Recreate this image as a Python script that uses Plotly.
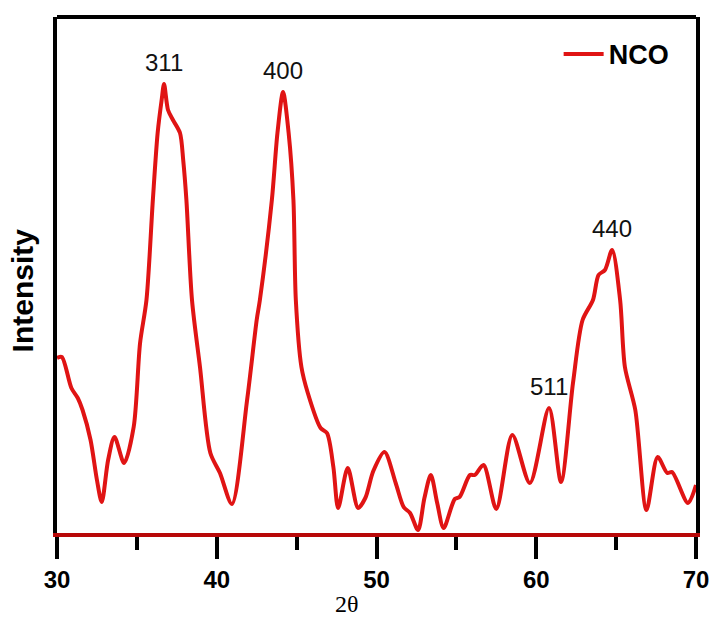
import plotly.graph_objects as go

two_theta = [30.0, 30.3, 30.9, 31.3, 31.6, 32.1, 32.5, 32.8, 33.2, 33.6, 34.2, 34.8, 35.2, 35.6,
             36.0, 36.3, 36.55, 36.7, 36.95, 37.26, 37.7, 37.9, 38.1, 38.45, 38.95, 39.6, 40.2,
             40.95, 41.9, 42.5, 42.7, 43.45, 43.8, 44.15, 44.5, 44.8, 44.95, 45.3, 45.7, 46.5,
             46.9, 47.3, 47.6, 48.2, 48.85, 49.3, 49.8, 50.5, 51.2, 51.7, 52.1, 52.6, 53.0,
             53.4, 53.8, 54.2, 54.9, 55.2, 55.85, 56.15, 56.7, 57.5, 58.5, 59.6, 60.8, 61.55,
             62.3, 62.9, 63.55, 63.9, 64.3, 64.75, 65.25, 65.55, 66.2, 66.9, 67.6, 68.2, 68.5,
             69.5, 70.0]
intensity = [175, 176, 145, 135, 123, 93, 53, 31, 73, 96, 70, 106, 190, 233,
             333, 400, 433, 449, 423, 413, 400, 373, 333, 233, 166, 80, 60,
             29, 133, 213, 233, 333, 400, 441, 400, 333, 233, 166, 140, 105,
             100, 66, 25, 65, 25, 35, 62, 81, 50, 26, 20, 3, 35,
             58, 30, 5, 34, 36, 58, 58, 68, 24, 98, 50, 125, 51,
             150, 213, 233, 258, 263, 283, 233, 166, 123, 23, 76, 60, 61,
             30, 48]

peak_labels = ["311", "400", "511", "440"]
peak_x = [36.7, 44.15, 60.8, 64.75]
peak_y = [449, 441, 125, 283]

x_ticks = [30, 40, 50, 60, 70]

RED = "#e01414"

fig = go.Figure()
fig.add_trace(go.Scatter(
    x=two_theta, y=intensity, mode="lines", name="NCO",
    line=dict(color=RED, width=4, shape="spline", smoothing=0.8),
))

for lab, px, py in zip(peak_labels, peak_x, peak_y):
    fig.add_annotation(x=px, y=py, text=lab, showarrow=False, yshift=6, yanchor="bottom",
                       font=dict(family="Liberation Sans, Arial", size=24, color="#111"))

# axis titles
fig.add_annotation(xref="paper", yref="paper", x=-0.054, y=0.471, text="Intensity",
                   textangle=-90, showarrow=False, xanchor="center", yanchor="middle",
                   font=dict(family="Liberation Sans, Arial", size=30, color="black", weight="bold"))
fig.add_annotation(xref="paper", yref="paper", x=0.454, y=-0.137, text="2θ",
                   showarrow=False, xanchor="center", yanchor="middle",
                   font=dict(family="Liberation Serif, Times New Roman", size=24, color="black"))

fig.add_shape(type="line", xref="paper", yref="paper", x0=0, x1=1, y0=1, y1=1,
              line=dict(color="black", width=4))

fig.update_layout(
    width=713, height=618,
    margin=dict(l=57, r=17, t=17, b=85),
    plot_bgcolor="white", paper_bgcolor="white",
    showlegend=True,
    legend=dict(x=0.965, y=0.975, xanchor="right", yanchor="top",
                bgcolor="rgba(0,0,0,0)", itemwidth=40,
                font=dict(family="Liberation Sans, Arial", size=27, color="black", weight="bold")),
    xaxis=dict(range=[30, 70], tickvals=x_ticks, ticks="outside", ticklen=22, tickwidth=4,
               tickcolor="black", showline=True, linecolor="#b80808", linewidth=4,
               showgrid=False, zeroline=False, automargin=False,
               minor=dict(dtick=5, ticks="outside", ticklen=13, tickwidth=4, tickcolor="black"),
               tickfont=dict(family="Liberation Sans, Arial", size=24, color="black", weight="bold")),
    yaxis=dict(range=[0, 516], showticklabels=False, ticks="", showgrid=False, zeroline=False,
               showline=True, linecolor="black", linewidth=4, mirror=True, automargin=False),
)

fig.write_html("out.html")
